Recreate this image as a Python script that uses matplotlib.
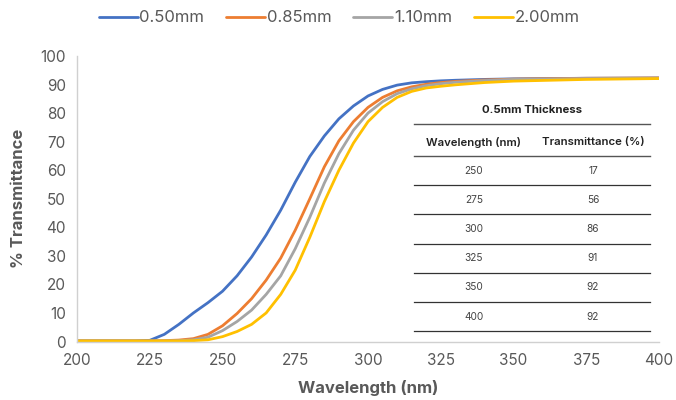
import matplotlib
matplotlib.use("Agg")
import matplotlib.pyplot as plt
from matplotlib.lines import Line2D

plt.rcParams['font.family'] = ['Inter', 'DejaVu Sans']

wavelength = [200, 205, 210, 215, 220, 225, 230, 235, 240, 245, 250, 255, 260, 265, 270,
              275, 280, 285, 290, 295, 300, 305, 310, 315, 320, 325, 330, 340, 350, 375, 400]
t_050 = [0.2, 0.2, 0.2, 0.2, 0.2, 0.4, 2.5, 6.0, 10.0, 13.6, 17.6, 23.0, 29.6, 37.3, 46.0,
         55.8, 64.8, 72.0, 78.0, 82.5, 86.0, 88.3, 89.8, 90.6, 91.0, 91.3, 91.5, 91.8, 92.0, 92.2, 92.3]
t_085 = [0.2, 0.2, 0.2, 0.2, 0.2, 0.2, 0.3, 0.5, 1.0, 2.5, 5.5, 9.8, 15.0, 21.5, 29.2,
         39.0, 50.0, 61.2, 70.3, 77.0, 82.0, 85.5, 87.8, 89.2, 90.1, 90.7, 91.1, 91.6, 91.9, 92.2, 92.3]
t_110 = [0.2, 0.2, 0.2, 0.2, 0.2, 0.2, 0.2, 0.3, 0.6, 1.5, 3.8, 7.0, 11.0, 16.5, 23.0,
         32.5, 43.5, 55.5, 65.8, 74.0, 80.0, 84.0, 86.8, 88.5, 89.6, 90.3, 90.8, 91.4, 91.8, 92.1, 92.2]
t_200 = [0.2, 0.2, 0.2, 0.2, 0.2, 0.2, 0.2, 0.2, 0.3, 0.6, 1.7, 3.5, 6.0, 10.0, 16.5,
         25.0, 36.5, 49.0, 60.0, 69.5, 77.0, 82.0, 85.5, 87.6, 88.8, 89.4, 89.9, 90.7, 91.2, 91.8, 92.1]

series_labels = ['0.50mm', '0.85mm', '1.10mm', '2.00mm']
series_colors = ['#4472C4', '#ED7D31', '#A5A5A5', '#FFC000']

x_ticks = [200, 225, 250, 275, 300, 325, 350, 375, 400]
y_ticks = [0, 10, 20, 30, 40, 50, 60, 70, 80, 90, 100]

table_title = '0.5mm Thickness'
table_headers = ['Wavelength (nm)', 'Transmittance (%)']
table_wl = ['250', '275', '300', '325', '350', '400']
table_tr = ['17', '56', '86', '91', '92', '92']

W, H = 676, 400
fig = plt.figure(figsize=(W / 100, H / 100), dpi=100)
ax = fig.add_axes([77 / W, 1 - 341.5 / H, (659 - 77) / W, (341.5 - 56) / H])

for ys, lab, col in zip([t_050, t_085, t_110, t_200], series_labels, series_colors):
    ax.plot(wavelength, ys, color=col, lw=2.0, label=lab,
            solid_capstyle='round', solid_joinstyle='round')

ax.set_xlim(200, 400)
ax.set_ylim(0, 100)
ax.set_xticks(x_ticks)
ax.set_yticks(y_ticks)
ax.tick_params(axis='both', length=0, labelsize=11, colors='#595959', pad=8)
for s in ['top', 'right']:
    ax.spines[s].set_visible(False)
for s in ['left', 'bottom']:
    ax.spines[s].set_color('#D0D0D0')
    ax.spines[s].set_linewidth(1.0)

ax.set_xlabel('Wavelength (nm)', fontsize=12, fontweight='bold', color='#595959', labelpad=9)
ax.set_ylabel('% Transmittance', fontsize=12, fontweight='bold', color='#595959', labelpad=10)

leg = fig.legend(loc='center', bbox_to_anchor=(339 / W, 1 - 18 / H), ncol=4, frameon=False,
                 fontsize=12, handlelength=2.35, handletextpad=0.1, columnspacing=1.3)
for t in leg.get_texts():
    t.set_color('#595959')

# inset table
def fx(px):
    return px / W

def fy(py):
    return 1 - py / H

x0, x1 = 414, 650
col_c = [474, 593]
fig.text(fx(532), fy(110), table_title, ha='center', va='center', fontsize=8.2, fontweight='bold', color='#222222')
fig.add_artist(Line2D([fx(x0), fx(x1)], [fy(124), fy(124)], color='#555555', lw=1.0))
fig.text(fx(col_c[0]), fy(142), table_headers[0], ha='center', va='center', fontsize=8.2, fontweight='semibold', color='#222222')
fig.text(fx(col_c[1]), fy(142), table_headers[1], ha='center', va='center', fontsize=8.2, fontweight='semibold', color='#222222')
fig.add_artist(Line2D([fx(x0), fx(x1)], [fy(156), fy(156)], color='#555555', lw=1.0))
row_top = 156
row_h = 29.2
for i, (wl, tr) in enumerate(zip(table_wl, table_tr)):
    yc = row_top + row_h * (i + 0.5)
    fig.text(fx(col_c[0]), fy(yc), wl, ha='center', va='center', fontsize=7.3, color='#444444')
    fig.text(fx(col_c[1]), fy(yc), tr, ha='center', va='center', fontsize=7.3, color='#444444')
    yl = row_top + row_h * (i + 1)
    fig.add_artist(Line2D([fx(x0), fx(x1)], [fy(yl), fy(yl)], color='#333333', lw=0.9))

fig.savefig('out.png', dpi=100)
